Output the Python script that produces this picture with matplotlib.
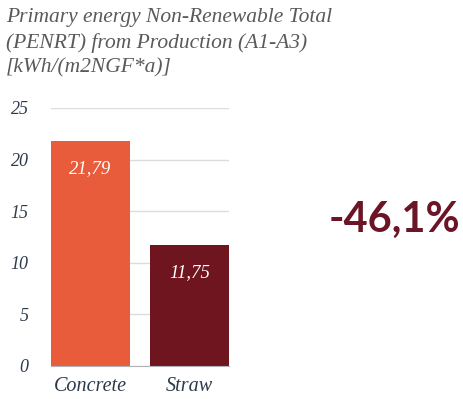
import matplotlib
matplotlib.use("Agg")
import matplotlib.pyplot as plt

categories = ["Concrete", "Straw"]
values = [21.79, 11.75]
value_labels = ["21,79", "11,75"]
yticks = [0, 5, 10, 15, 20, 25]
title = "Primary energy Non-Renewable Total\n(PENRT) from Production (A1-A3)\n[kWh/(m2NGF*a)]"
change_label = "-46,1%"

colors = ["#e95c3b", "#6f1520"]
W, H = 464, 399
fig = plt.figure(figsize=(W/100, H/100), dpi=100)
ax = fig.add_axes([51/W, 1-366/H, 178/W, 258/H])

x = list(range(len(categories)))
ax.bar(x, values, width=0.8, color=colors, zorder=2)
ax.set_xlim(-0.4, 1.4)
ax.set_ylim(0, 25)
ax.set_yticks(yticks)
ax.set_yticklabels([str(t) for t in yticks])
ax.grid(axis="y", color="#d9dde0", linewidth=1, zorder=0)
for s in ["top", "right", "left"]:
    ax.spines[s].set_visible(False)
ax.spines["bottom"].set_color("#b0b4b8")
ax.tick_params(axis="both", length=0)
ax.tick_params(axis="y", pad=16)
ax.tick_params(axis="x", pad=8)
ax.set_xticks(x)
ax.set_xticklabels(categories)
for lab in ax.get_yticklabels():
    lab.set_fontfamily("Liberation Serif"); lab.set_fontstyle("italic")
    lab.set_fontsize(13); lab.set_color("#2c3a4b")
for lab in ax.get_xticklabels():
    lab.set_fontfamily("Liberation Serif"); lab.set_fontstyle("italic")
    lab.set_fontsize(14.5); lab.set_color("#2c3a4b")

for xi, v, lbl in zip(x, values, value_labels):
    ax.text(xi, v - 2.7, lbl, ha="center", va="center", color="white",
            fontfamily="Liberation Serif", fontstyle="italic", fontsize=13.5)

fig.text(6/W, 1-8/H, title, ha="left", va="top", color="#5a5a5a",
         fontfamily="Liberation Serif", fontstyle="italic", fontsize=15.5,
         linespacing=1.38)
fig.text(394/W, 1-220/H, change_label, ha="center", va="center",
         color="#6b1526", fontfamily="Lato", fontweight="bold", fontsize=30)

fig.savefig("out.png", dpi=100)
